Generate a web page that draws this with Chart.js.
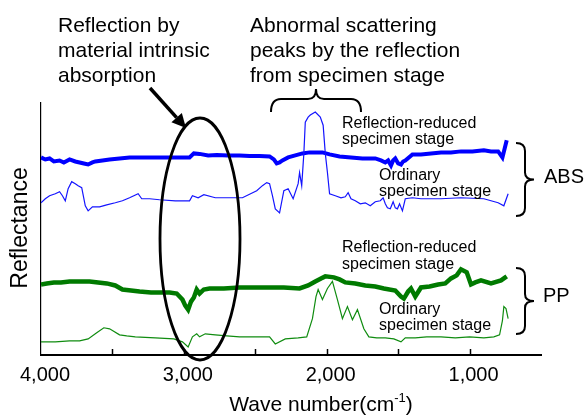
<!DOCTYPE html>
<html>
<head>
<meta charset="utf-8">
<style>
  html, body { margin: 0; padding: 0; background: #fff; }
</style>
<script src="https://cdn.jsdelivr.net/npm/chart.js@4.4.1/dist/chart.umd.min.js"></script>
</head>
<body>
<canvas id="spectra" width="587" height="417"></canvas>
<script>
(function (window, document) {
  'use strict';

  var FONT = '"Liberation Sans", Arial, sans-serif';

  // x axis: wave number (cm-1), reversed
  var xMin = 500;
  var xMax = 4000;
  var tickValues = [4000, 3000, 2000, 1000];
  var tickLabels = ['4,000', '3,000', '2,000', '1,000'];
  var tickMarks = [3500, 3000, 2500, 2000, 1500, 1000];

  // ABS, reflection-reduced specimen stage
  var absReducedWn = [4000, 3970, 3940, 3910, 3870, 3840, 3800, 3760, 3730, 3700, 3670, 3640, 3620, 3570, 3520, 3450, 3380, 3280, 3170, 3060, 2960, 2930, 2890, 2830, 2770, 2690, 2610, 2540, 2470, 2400, 2370, 2350, 2330, 2310, 2270, 2220, 2170, 2120, 2070, 2030, 1980, 1910, 1830, 1750, 1660, 1620, 1590, 1570, 1550, 1535, 1520, 1500, 1480, 1465, 1450, 1400, 1340, 1270, 1200, 1130, 1060, 980, 900, 850, 800, 770, 740];
  var absReducedVal = [196, 194, 195, 192, 193, 191, 194, 192, 191, 190, 189, 191, 192, 193, 194, 195, 196, 196, 196, 196, 196, 200, 199.5, 198, 198.5, 198, 198, 197.5, 197.5, 197, 194, 190, 191, 193, 196, 198, 200, 201, 201, 201, 199, 197, 196, 195, 195, 193, 191, 193, 188, 193, 195, 190, 189, 192, 193, 199, 199, 200, 201, 201, 202, 202, 203, 202, 202, 196, 213];

  // ABS, ordinary specimen stage
  var absOrdinaryWn = [4000, 3970, 3940, 3900, 3870, 3850, 3830, 3810, 3785, 3760, 3740, 3715, 3690, 3670, 3640, 3590, 3540, 3480, 3430, 3380, 3320, 3295, 3240, 3170, 3060, 2960, 2940, 2900, 2860, 2780, 2690, 2590, 2490, 2450, 2420, 2400, 2380, 2360, 2330, 2300, 2270, 2235, 2200, 2190, 2175, 2160, 2150, 2130, 2115, 2080, 2045, 2025, 2010, 1995, 1980, 1940, 1900, 1870, 1850, 1830, 1800, 1765, 1730, 1695, 1660, 1625, 1605, 1590, 1575, 1555, 1535, 1520, 1505, 1490, 1470, 1450, 1400, 1340, 1200, 1060, 900, 800, 760, 730];
  var absOrdinaryVal = [151, 155, 158, 160, 162, 158, 153, 165, 172, 170, 168, 166, 148, 143, 147, 147, 149, 151, 153, 156, 160, 155, 155, 154, 153, 153, 158, 156, 159, 156, 156, 156, 163, 168, 171, 170, 158, 145, 141, 163, 165, 155, 170, 181, 168, 200, 231, 236, 238, 241, 236, 228, 200, 181, 160, 158, 156, 157, 161, 155, 153, 150, 151, 148, 152, 153, 156, 150, 146, 145, 152, 146, 145, 150, 143, 155, 156, 155, 155, 156, 155, 151, 148, 160];

  // PP, reflection-reduced specimen stage
  var ppReducedWn = [4000, 3960, 3910, 3860, 3800, 3740, 3660, 3600, 3540, 3480, 3430, 3370, 3310, 3230, 3150, 3100, 3050, 3010, 2990, 2970, 2950, 2930, 2910, 2890, 2860, 2820, 2720, 2610, 2500, 2400, 2300, 2190, 2130, 2080, 2040, 2010, 1950, 1910, 1870, 1800, 1730, 1660, 1600, 1520, 1480, 1460, 1430, 1410, 1380, 1340, 1280, 1220, 1170, 1130, 1090, 1060, 1020, 990, 960, 920, 850, 780, 740];
  var ppReducedVal = [70, 71, 72, 72, 73, 73, 73, 72, 71, 69, 65, 64, 63, 62, 62, 62, 61, 55, 49, 45, 53, 57, 65, 61, 65, 66, 66, 67, 67, 67, 67, 66, 69, 73, 76, 78, 77, 75, 72, 71, 69, 68, 66, 64, 58, 56, 63, 66, 58, 67, 68, 70, 71, 76, 79, 85, 82, 70, 72, 74, 71, 74, 78];

  // PP, ordinary specimen stage
  var ppOrdinaryWn = [4000, 3900, 3800, 3730, 3670, 3610, 3560, 3520, 3450, 3400, 3340, 3200, 3070, 3010, 2970, 2940, 2910, 2890, 2850, 2780, 2700, 2610, 2500, 2400, 2360, 2290, 2200, 2140, 2100, 2075, 2060, 2030, 1995, 1960, 1925, 1890, 1855, 1820, 1785, 1740, 1705, 1650, 1590, 1530, 1480, 1450, 1380, 1300, 1200, 1100, 1000, 900, 830, 790, 770, 760, 745, 730];
  var ppOrdinaryVal = [13, 13, 14, 14, 16, 22, 27, 26, 20, 19, 18, 17, 16, 13, 8, 18, 21, 18, 21, 20, 19, 18, 18, 18, 11, 16, 17, 18, 36, 58, 65, 55, 66, 73, 55, 36, 48, 35, 45, 26, 18, 17, 17, 16, 13, 17, 17, 18, 18, 17, 18, 17, 18, 20, 34, 48, 46, 36];

  function toPoints(wn, val) {
    return wn.map(function (x, i) { return { x: x, y: val[i] }; });
  }

  function drawBraceH(ctx, x1, x2, yEnd, yBar, yTip) {
    var xm = (x1 + x2) / 2;
    ctx.beginPath();
    ctx.moveTo(x1, yEnd);
    ctx.quadraticCurveTo(x1, yBar, x1 + 10, yBar);
    ctx.lineTo(xm - 8, yBar);
    ctx.quadraticCurveTo(xm, yBar, xm, yTip);
    ctx.quadraticCurveTo(xm, yBar, xm + 8, yBar);
    ctx.lineTo(x2 - 10, yBar);
    ctx.quadraticCurveTo(x2, yBar, x2, yEnd);
    ctx.stroke();
  }

  function drawBraceV(ctx, y1, y2, xEnd, xBar, xTip) {
    var ym = (y1 + y2) / 2;
    ctx.beginPath();
    ctx.moveTo(xEnd, y1);
    ctx.quadraticCurveTo(xBar, y1, xBar, y1 + 8);
    ctx.lineTo(xBar, ym - 7);
    ctx.quadraticCurveTo(xBar, ym, xTip, ym);
    ctx.quadraticCurveTo(xBar, ym, xBar, ym + 7);
    ctx.lineTo(xBar, y2 - 8);
    ctx.quadraticCurveTo(xBar, y2, xEnd, y2);
    ctx.stroke();
  }

  function drawArrow(ctx, x1, y1, x2, y2) {
    var ang = Math.atan2(y2 - y1, x2 - x1);
    var head = 14;
    var bx = x2 - head * Math.cos(ang);
    var by = y2 - head * Math.sin(ang);
    ctx.beginPath();
    ctx.moveTo(x1, y1);
    ctx.lineTo(bx, by);
    ctx.stroke();
    ctx.beginPath();
    ctx.moveTo(x2, y2);
    ctx.lineTo(bx + 7 * Math.sin(ang), by - 7 * Math.cos(ang));
    ctx.lineTo(bx - 7 * Math.sin(ang), by + 7 * Math.cos(ang));
    ctx.closePath();
    ctx.fill();
  }

  function drawLines(ctx, lines, x, y, step) {
    lines.forEach(function (t, i) { ctx.fillText(t, x, y + i * step); });
  }

  var annotations = {
    id: 'annotations',
    afterDraw: function (chart) {
      var ctx = chart.ctx;
      var area = chart.chartArea;
      var xs = chart.scales.x;
      ctx.save();
      ctx.strokeStyle = '#000';
      ctx.fillStyle = '#000';

      // tick marks pointing into the plot
      ctx.lineWidth = 1.5;
      tickMarks.forEach(function (v) {
        var px = Math.round(xs.getPixelForValue(v)) + 0.5;
        ctx.beginPath();
        ctx.moveTo(px, area.bottom);
        ctx.lineTo(px, area.bottom - 6);
        ctx.stroke();
      });

      // ellipse around the C-H band
      ctx.lineWidth = 2.8;
      ctx.beginPath();
      ctx.ellipse(200, 239, 40, 121, 0, 0, Math.PI * 2);
      ctx.stroke();

      ctx.lineWidth = 3.5;
      drawArrow(ctx, 150, 88, 186, 128);

      ctx.lineWidth = 2;
      drawBraceH(ctx, 271, 361, 112, 99, 89);
      drawBraceV(ctx, 143, 216, 516, 525, 534);
      drawBraceV(ctx, 268, 334, 516, 525, 534);

      ctx.textBaseline = 'alphabetic';
      ctx.textAlign = 'left';
      ctx.font = '21px ' + FONT;
      drawLines(ctx, ['Reflection by', 'material intrinsic', 'absorption'], 58, 32, 25);
      drawLines(ctx, ['Abnormal scattering', 'peaks by the reflection', 'from specimen stage'], 250, 32, 25);
      ctx.font = '20px ' + FONT;
      ctx.fillText('ABS', 544, 183);
      ctx.fillText('PP', 543, 302);

      ctx.font = '16px ' + FONT;
      drawLines(ctx, ['Reflection-reduced', 'specimen stage'], 342, 128, 16);
      drawLines(ctx, ['Ordinary', 'specimen stage'], 379, 180, 16);
      drawLines(ctx, ['Reflection-reduced', 'specimen stage'], 342, 252, 17);
      drawLines(ctx, ['Ordinary', 'specimen stage'], 379, 314, 16);

      // y axis title
      ctx.save();
      ctx.translate(27, 228);
      ctx.rotate(-Math.PI / 2);
      ctx.textAlign = 'center';
      ctx.font = '23px ' + FONT;
      ctx.fillText('Reflectance', 0, 0);
      ctx.restore();

      // x axis title with superscript
      var main = 'Wave number(cm';
      var sup = '-1';
      ctx.font = '21px ' + FONT;
      var w1 = ctx.measureText(main).width;
      var w3 = ctx.measureText(')').width;
      ctx.font = '13px ' + FONT;
      var w2 = ctx.measureText(sup).width;
      var x0 = 321 - (w1 + w2 + w3) / 2;
      ctx.font = '21px ' + FONT;
      ctx.fillText(main, x0, 411);
      ctx.fillText(')', x0 + w1 + w2, 411);
      ctx.font = '13px ' + FONT;
      ctx.fillText(sup, x0 + w1, 402);

      ctx.restore();
    }
  };

  function lineSet(label, wn, val, color, width) {
    return {
      label: label,
      data: toPoints(wn, val),
      borderColor: color,
      backgroundColor: color,
      borderWidth: width,
      pointRadius: 0,
      tension: 0,
      fill: false
    };
  }

  var canvas = document.getElementById('spectra');
  new Chart(canvas.getContext('2d'), {
    type: 'line',
    data: {
      datasets: [
        lineSet('ABS ordinary', absOrdinaryWn, absOrdinaryVal, '#1414ff', 1.2),
        lineSet('ABS reflection-reduced', absReducedWn, absReducedVal, '#0000ff', 4),
        lineSet('PP ordinary', ppOrdinaryWn, ppOrdinaryVal, '#108c10', 1.2),
        lineSet('PP reflection-reduced', ppReducedWn, ppReducedVal, '#007a00', 4.5)
      ]
    },
    options: {
      responsive: false,
      animation: false,
      layout: { padding: { left: 41, right: 46, top: 103, bottom: 22 } },
      plugins: {
        legend: { display: false },
        tooltip: { enabled: false }
      },
      scales: {
        x: {
          type: 'linear',
          reverse: true,
          min: xMin,
          max: xMax,
          grid: { display: false, drawTicks: false },
          border: { display: true, color: '#000', width: 2 },
          ticks: {
            stepSize: 500,
            autoSkip: false,
            maxRotation: 0,
            padding: 8,
            labelOffset: 4,
            color: '#000',
            font: { family: FONT, size: 20 },
            callback: function (value) {
              var i = tickValues.indexOf(value);
              return i === -1 ? '' : tickLabels[i];
            }
          }
        },
        y: {
          min: 0,
          max: 250,
          grid: { display: false, drawTicks: false },
          border: { display: true, color: '#000', width: 1.2 },
          ticks: { display: false }
        }
      }
    },
    plugins: [annotations]
  });
})(window, document);
</script>
</body>
</html>
